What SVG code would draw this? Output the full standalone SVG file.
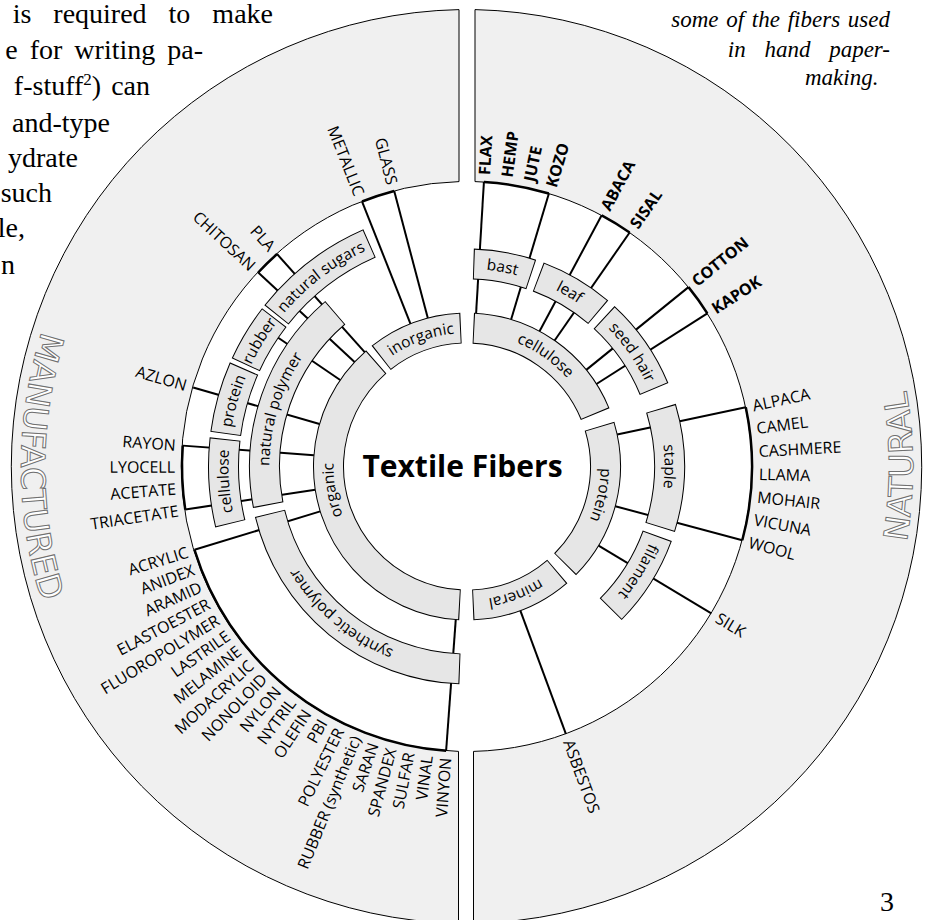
<svg xmlns="http://www.w3.org/2000/svg" width="930" height="920" viewBox="0 0 930 920">
<defs>
<path id="p1" d="M467,333 A133.5,133.5 0 1 1 467,600 A133.5,133.5 0 1 1 467,333"/>
<path id="p2" d="M467,269 A197.5,197.5 0 1 1 467,664 A197.5,197.5 0 1 1 467,269"/>
<path id="p3" d="M467,228 A238.5,238.5 0 1 1 467,705 A238.5,238.5 0 1 1 467,228"/>
<path id="pm" d="M244,80.3 A446,446 0 0 0 244,852.7"/>
<path id="pn" d="M690,852.7 A446,446 0 0 0 690,80.3"/>
</defs>
<style>
.ring{fill:#f0f0f0;stroke:#000;stroke-width:1}
.k{fill:none;stroke:#000;stroke-width:31}
.g{fill:none;stroke:#e6e6e6;stroke-width:29}
.ln{stroke:#000;stroke-width:2}
.br{fill:none;stroke:#000;stroke-width:2.5}
.lab{font-family:'Open Sans',sans-serif;font-size:16px;fill:#000}
.b{font-weight:bold}
.bx{font-family:'Open Sans',sans-serif;font-size:15.5px;fill:#000}
.big{font-family:'DejaVu Sans',sans-serif;font-size:33px;fill:#fff;stroke:#707070;stroke-width:1}
.serif{font-family:'Liberation Serif',serif;font-size:28px;fill:#000}
.it{font-family:'Liberation Serif',serif;font-style:italic;font-size:23px;fill:#000}
</style>

<g id="page-text">
<text class="serif" x="273" y="22.7" text-anchor="end" word-spacing="15">is required to make</text>
<text class="serif" x="203" y="59.3" text-anchor="end" word-spacing="5">e for writing pa-</text>
<text class="serif" x="150" y="95" text-anchor="end" word-spacing="3">f-stuff<tspan font-size="17" dy="-10">2</tspan><tspan dy="10">) can</tspan></text>
<text class="serif" x="110" y="131.7" text-anchor="end">and-type</text>
<text class="serif" x="78" y="166.7" text-anchor="end">ydrate</text>
<text class="serif" x="52" y="201.7" text-anchor="end">such</text>
<text class="serif" x="25" y="237.3" text-anchor="end">le,</text>
<text class="serif" x="15" y="274" text-anchor="end">n</text>
<text class="it" x="890" y="26.7" text-anchor="end" word-spacing="2">some of the fibers used</text>
<text class="it" x="890" y="56.7" text-anchor="end" word-spacing="13">in hand paper-</text>
<text class="it" x="805" y="85">making.</text>
<text class="serif" x="880" y="911" font-size="22">3</text>
</g>

<g id="ring">
<path class="ring" d="M459,9.6 L459,181.6 A285,285 0 0 0 458.5,751.4 L458.5,923.4 A457,457 0 0 1 459,9.6 Z"/>
<path class="ring" d="M475,9.6 A457,457 0 0 1 473.5,923.4 L473.5,751.4 A285,285 0 0 0 475,181.6 Z"/>
<text class="big" text-anchor="middle"><textPath href="#pm" startOffset="50%">MANUFACTURED</textPath></text>
<text class="big" text-anchor="middle"><textPath href="#pn" startOffset="50%">NATURAL</textPath></text>
</g>

<g id="connectors">
<line class="ln" x1="467" y1="313" x2="467" y2="181.5" transform="rotate(3.4 467 466.5)"/>
<line class="ln" x1="467" y1="313" x2="467" y2="181.5" transform="rotate(16.7 467 466.5)"/>
<line class="ln" x1="467" y1="313" x2="467" y2="181.5" transform="rotate(28.2 467 466.5)"/>
<line class="ln" x1="467" y1="313" x2="467" y2="181.5" transform="rotate(34.8 467 466.5)"/>
<line class="ln" x1="467" y1="313" x2="467" y2="181.5" transform="rotate(51 467 466.5)"/>
<line class="ln" x1="467" y1="313" x2="467" y2="181.5" transform="rotate(57.5 467 466.5)"/>
<line class="ln" x1="467" y1="313" x2="467" y2="181.5" transform="rotate(78 467 466.5)"/>
<line class="ln" x1="467" y1="313" x2="467" y2="181.5" transform="rotate(105 467 466.5)"/>
<line class="ln" x1="467" y1="313" x2="467" y2="181.5" transform="rotate(121 467 466.5)"/>
<line class="ln" x1="467" y1="313" x2="467" y2="181.5" transform="rotate(159.7 467 466.5)"/>
<line class="ln" x1="467" y1="313" x2="467" y2="181.5" transform="rotate(-14.8 467 466.5)"/>
<line class="ln" x1="467" y1="313" x2="467" y2="181.5" transform="rotate(-21.6 467 466.5)"/>
<line class="ln" x1="467" y1="313" x2="467" y2="181.5" transform="rotate(-41.8 467 466.5)"/>
<line class="ln" x1="467" y1="313" x2="467" y2="181.5" transform="rotate(-47.1 467 466.5)"/>
<line class="ln" x1="467" y1="313" x2="467" y2="238" transform="rotate(-55.7 467 466.5)"/>
<line class="ln" x1="467" y1="313" x2="467" y2="181.5" transform="rotate(-73.9 467 466.5)"/>
<line class="ln" x1="467" y1="313" x2="467" y2="181.5" transform="rotate(-85.8 467 466.5)"/>
<line class="ln" x1="467" y1="313" x2="467" y2="181.5" transform="rotate(-98.7 467 466.5)"/>
<line class="ln" x1="467" y1="313" x2="467" y2="181.5" transform="rotate(-107 467 466.5)"/>
<line class="ln" x1="467" y1="313" x2="467" y2="181.5" transform="rotate(-175.8 467 466.5)"/>
<circle class="br" cx="467" cy="466.5" r="285" stroke-dasharray="66.16 2000" transform="rotate(-86.6 467 466.5)"/>
<circle class="br" cx="467" cy="466.5" r="285" stroke-dasharray="32.83 2000" transform="rotate(-61.8 467 466.5)"/>
<circle class="br" cx="467" cy="466.5" r="285" stroke-dasharray="32.33 2000" transform="rotate(-39 467 466.5)"/>
<circle class="br" cx="467" cy="466.5" r="285" stroke-dasharray="134.3 2000" transform="rotate(-12 467 466.5)"/>
<circle class="br" cx="467" cy="466.5" r="285" stroke-dasharray="33.82 2000" transform="rotate(-111.6 467 466.5)"/>
<circle class="br" cx="467" cy="466.5" r="285" stroke-dasharray="26.36 2000" transform="rotate(-137.1 467 466.5)"/>
<circle class="br" cx="467" cy="466.5" r="285" stroke-dasharray="64.17 2000" transform="rotate(-188.7 467 466.5)"/>
<circle class="br" cx="467" cy="466.5" r="285" stroke-dasharray="342.23 2000" transform="rotate(-265.8 467 466.5)"/>
</g>

<g id="inorganic"><circle class="k" cx="467" cy="466.5" r="138.5" stroke-dasharray="86.54 2000" transform="rotate(-128.3 467 466.5)"/><circle class="g" cx="467" cy="466.5" r="138.5" stroke-dasharray="84.54 2000" transform="rotate(-127.886 467 466.5)"/><text class="bx" text-anchor="middle"><textPath href="#p1" startOffset="94.5%">inorganic</textPath></text></g>
<g id="organic"><circle class="k" cx="467" cy="466.5" r="138.5" stroke-dasharray="329 2000" transform="rotate(-267.1 467 466.5)"/><circle class="g" cx="467" cy="466.5" r="138.5" stroke-dasharray="327 2000" transform="rotate(-266.686 467 466.5)"/><text class="bx" text-anchor="middle"><textPath href="#p1" startOffset="72.22%">organic</textPath></text></g>
<g id="cellulose-natural"><circle class="k" cx="467" cy="466.5" r="138.5" stroke-dasharray="157.37 2000" transform="rotate(-87.4 467 466.5)"/><circle class="g" cx="467" cy="466.5" r="138.5" stroke-dasharray="155.37 2000" transform="rotate(-86.986 467 466.5)"/><text class="bx" text-anchor="middle"><textPath href="#p1" startOffset="9.78%">cellulose</textPath></text></g>
<g id="protein-natural"><circle class="k" cx="467" cy="466.5" r="138.5" stroke-dasharray="149.39 2000" transform="rotate(-16.9 467 466.5)"/><circle class="g" cx="467" cy="466.5" r="138.5" stroke-dasharray="147.39 2000" transform="rotate(-16.486 467 466.5)"/><text class="bx" text-anchor="middle"><textPath href="#p1" startOffset="28.33%">protein</textPath></text></g>
<g id="mineral"><circle class="k" cx="467" cy="466.5" r="138.5" stroke-dasharray="92.58 2000" transform="rotate(49.3 467 466.5)"/><circle class="g" cx="467" cy="466.5" r="138.5" stroke-dasharray="90.58 2000" transform="rotate(49.714 467 466.5)"/><text class="bx" text-anchor="middle"><textPath href="#p1" startOffset="44.17%">mineral</textPath></text></g>

<g id="natural-polymer"><circle class="k" cx="467" cy="466.5" r="202.5" stroke-dasharray="213.47 2000" transform="rotate(-191 467 466.5)"/><circle class="g" cx="467" cy="466.5" r="202.5" stroke-dasharray="211.47 2000" transform="rotate(-190.717 467 466.5)"/><text class="bx" text-anchor="middle"><textPath href="#p2" startOffset="79.72%">natural polymer</textPath></text></g>
<g id="synthetic-polymer"><circle class="k" cx="467" cy="466.5" r="202.5" stroke-dasharray="263.66 2000" transform="rotate(-268 467 466.5)"/><circle class="g" cx="467" cy="466.5" r="202.5" stroke-dasharray="261.66 2000" transform="rotate(-267.717 467 466.5)"/><text class="bx" text-anchor="middle"><textPath href="#p2" startOffset="61.25%">synthetic polymer</textPath></text></g>
<g id="bast"><circle class="k" cx="467" cy="466.5" r="202.5" stroke-dasharray="59.02 2000" transform="rotate(-88.2 467 466.5)"/><circle class="g" cx="467" cy="466.5" r="202.5" stroke-dasharray="57.02 2000" transform="rotate(-87.917 467 466.5)"/><text class="bx" text-anchor="middle"><textPath href="#p2" startOffset="2.81%">bast</textPath></text></g>
<g id="leaf"><circle class="k" cx="467" cy="466.5" r="202.5" stroke-dasharray="69.98 2000" transform="rotate(-69.4 467 466.5)"/><circle class="g" cx="467" cy="466.5" r="202.5" stroke-dasharray="67.98 2000" transform="rotate(-69.117 467 466.5)"/><text class="bx" text-anchor="middle"><textPath href="#p2" startOffset="8.47%">leaf</textPath></text></g>
<g id="seed-hair"><circle class="k" cx="467" cy="466.5" r="202.5" stroke-dasharray="88 2000" transform="rotate(-47.4 467 466.5)"/><circle class="g" cx="467" cy="466.5" r="202.5" stroke-dasharray="86 2000" transform="rotate(-47.117 467 466.5)"/><text class="bx" text-anchor="middle"><textPath href="#p2" startOffset="15.36%">seed hair</textPath></text></g>
<g id="staple"><circle class="k" cx="467" cy="466.5" r="202.5" stroke-dasharray="120.87 2000" transform="rotate(-16.7 467 466.5)"/><circle class="g" cx="467" cy="466.5" r="202.5" stroke-dasharray="118.87 2000" transform="rotate(-16.417 467 466.5)"/><text class="bx" text-anchor="middle"><textPath href="#p2" startOffset="25%">staple</textPath></text></g>
<g id="filament"><circle class="k" cx="467" cy="466.5" r="202.5" stroke-dasharray="87.65 2000" transform="rotate(20 467 466.5)"/><circle class="g" cx="467" cy="466.5" r="202.5" stroke-dasharray="85.65 2000" transform="rotate(20.283 467 466.5)"/><text class="bx" text-anchor="middle"><textPath href="#p2" startOffset="33.75%">filament</textPath></text></g>

<g id="natural-sugars"><circle class="k" cx="467" cy="466.5" r="243.5" stroke-dasharray="118.57 2000" transform="rotate(-141.5 467 466.5)"/><circle class="g" cx="467" cy="466.5" r="243.5" stroke-dasharray="116.57 2000" transform="rotate(-141.265 467 466.5)"/><text class="bx" text-anchor="middle"><textPath href="#p3" startOffset="89.56%">natural sugars</textPath></text></g>
<g id="rubber"><circle class="k" cx="467" cy="466.5" r="243.5" stroke-dasharray="55.25 2000" transform="rotate(-155.3 467 466.5)"/><circle class="g" cx="467" cy="466.5" r="243.5" stroke-dasharray="53.25 2000" transform="rotate(-155.065 467 466.5)"/><text class="bx" text-anchor="middle"><textPath href="#p3" startOffset="83.67%">rubber</textPath></text></g>
<g id="protein-manufactured"><circle class="k" cx="467" cy="466.5" r="243.5" stroke-dasharray="68 2000" transform="rotate(-172.3 467 466.5)"/><circle class="g" cx="467" cy="466.5" r="243.5" stroke-dasharray="66 2000" transform="rotate(-172.065 467 466.5)"/><text class="bx" text-anchor="middle"><textPath href="#p3" startOffset="79.36%">protein</textPath></text></g>
<g id="cellulose-manufactured"><circle class="k" cx="467" cy="466.5" r="243.5" stroke-dasharray="85.42 2000" transform="rotate(-193.6 467 466.5)"/><circle class="g" cx="467" cy="466.5" r="243.5" stroke-dasharray="83.42 2000" transform="rotate(-193.365 467 466.5)"/><text class="bx" text-anchor="middle"><textPath href="#p3" startOffset="74.03%">cellulose</textPath></text></g>

<g id="center"><text x="462.5" y="477" text-anchor="middle" font-family="'Open Sans',sans-serif" font-weight="bold" font-size="30">Textile Fibers</text></g>

<g id="labels-natural" class="lab">
<text class="b" x="759" y="466.5" dy=".36em" transform="rotate(-86.6 467 466.5)">FLAX</text>
<text class="b" x="759" y="466.5" dy=".36em" transform="rotate(-82.17 467 466.5)">HEMP</text>
<text class="b" x="759" y="466.5" dy=".36em" transform="rotate(-77.73 467 466.5)">JUTE</text>
<text class="b" x="759" y="466.5" dy=".36em" transform="rotate(-73.3 467 466.5)">KOZO</text>
<text class="b" x="759" y="466.5" dy=".36em" transform="rotate(-61.8 467 466.5)">ABACA</text>
<text class="b" x="759" y="466.5" dy=".36em" transform="rotate(-55.2 467 466.5)">SISAL</text>
<text class="b" x="759" y="466.5" dy=".36em" transform="rotate(-39 467 466.5)">COTTON</text>
<text class="b" x="759" y="466.5" dy=".36em" transform="rotate(-32.5 467 466.5)">KAPOK</text>
<text x="759" y="466.5" dy=".36em" transform="rotate(-12 467 466.5)">ALPACA</text>
<text x="759" y="466.5" dy=".36em" transform="rotate(-7.5 467 466.5)">CAMEL</text>
<text x="759" y="466.5" dy=".36em" transform="rotate(-3 467 466.5)">CASHMERE</text>
<text x="759" y="466.5" dy=".36em" transform="rotate(1.5 467 466.5)">LLAMA</text>
<text x="759" y="466.5" dy=".36em" transform="rotate(6 467 466.5)">MOHAIR</text>
<text x="759" y="466.5" dy=".36em" transform="rotate(10.5 467 466.5)">VICUNA</text>
<text x="759" y="466.5" dy=".36em" transform="rotate(15 467 466.5)">WOOL</text>
<text x="759" y="466.5" dy=".36em" transform="rotate(31 467 466.5)">SILK</text>
<text x="759" y="466.5" dy=".36em" transform="rotate(69.7 467 466.5)">ASBESTOS</text>
</g>

<g id="labels-manufactured" class="lab" text-anchor="end">
<text x="175" y="466.5" dy=".36em" transform="rotate(68.4 467 466.5)">METALLIC</text>
<text x="175" y="466.5" dy=".36em" transform="rotate(75.2 467 466.5)">GLASS</text>
<text x="175" y="466.5" dy=".36em" transform="rotate(48.2 467 466.5)">PLA</text>
<text x="175" y="466.5" dy=".36em" transform="rotate(42.9 467 466.5)">CHITOSAN</text>
<text x="175" y="466.5" dy=".36em" transform="rotate(16.1 467 466.5)">AZLON</text>
<text x="175" y="466.5" dy=".36em" transform="rotate(4.2 467 466.5)">RAYON</text>
<text x="175" y="466.5" dy=".36em" transform="rotate(-0.1 467 466.5)">LYOCELL</text>
<text x="175" y="466.5" dy=".36em" transform="rotate(-4.4 467 466.5)">ACETATE</text>
<text x="175" y="466.5" dy=".36em" transform="rotate(-8.7 467 466.5)">TRIACETATE</text>
<text x="175" y="466.5" dy=".36em" transform="rotate(-17 467 466.5)">ACRYLIC</text>
<text x="175" y="466.5" dy=".36em" transform="rotate(-20.62 467 466.5)">ANIDEX</text>
<text x="175" y="466.5" dy=".36em" transform="rotate(-24.24 467 466.5)">ARAMID</text>
<text x="175" y="466.5" dy=".36em" transform="rotate(-27.86 467 466.5)">ELASTOESTER</text>
<text x="175" y="466.5" dy=".36em" transform="rotate(-31.48 467 466.5)">FLUOROPOLYMER</text>
<text x="175" y="466.5" dy=".36em" transform="rotate(-35.11 467 466.5)">LASTRILE</text>
<text x="175" y="466.5" dy=".36em" transform="rotate(-38.73 467 466.5)">MELAMINE</text>
<text x="175" y="466.5" dy=".36em" transform="rotate(-42.35 467 466.5)">MODACRYLIC</text>
<text x="175" y="466.5" dy=".36em" transform="rotate(-45.97 467 466.5)">NONOLOID</text>
<text x="175" y="466.5" dy=".36em" transform="rotate(-49.59 467 466.5)">NYLON</text>
<text x="175" y="466.5" dy=".36em" transform="rotate(-53.21 467 466.5)">NYTRIL</text>
<text x="175" y="466.5" dy=".36em" transform="rotate(-56.83 467 466.5)">OLEFIN</text>
<text x="175" y="466.5" dy=".36em" transform="rotate(-60.45 467 466.5)">PBI</text>
<text x="175" y="466.5" dy=".36em" transform="rotate(-64.07 467 466.5)">POLYESTER</text>
<text x="175" y="466.5" dy=".36em" transform="rotate(-67.69 467 466.5)">RUBBER (synthetic)</text>
<text x="175" y="466.5" dy=".36em" transform="rotate(-71.32 467 466.5)">SARAN</text>
<text x="175" y="466.5" dy=".36em" transform="rotate(-74.94 467 466.5)">SPANDEX</text>
<text x="175" y="466.5" dy=".36em" transform="rotate(-78.56 467 466.5)">SULFAR</text>
<text x="175" y="466.5" dy=".36em" transform="rotate(-82.18 467 466.5)">VINAL</text>
<text x="175" y="466.5" dy=".36em" transform="rotate(-85.8 467 466.5)">VINYON</text>
</g>
</svg>
